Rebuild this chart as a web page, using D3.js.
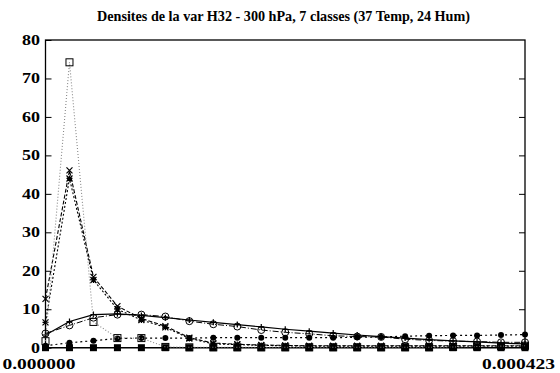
<!DOCTYPE html>
<html>
<head>
<meta charset="utf-8">
<script src="https://cdn.jsdelivr.net/npm/d3@7"></script>
<style>
  body { margin: 0; background: #fff; }
  text { font-family: "Liberation Serif", "DejaVu Serif", serif; font-weight: bold; }
</style>
</head>
<body>
<script>
// Dimensions
const width = 560, height = 373;
const margin = {left: 45.5, right: 35, top: 40, bottom: 25.3};

// Data: 21 classes along x, one array per series
const xMax = 0.000423;
const xValues = d3.range(21).map(i => i * xMax / 20);
const xTickValues = [0, xMax];
const yTickValues = [0, 10, 20, 30, 40, 50, 60, 70, 80];

const seriesOpenSquare = [1.7, 74.2, 6.7, 2.5, 2.5, 0.2, 0.1, 0.1, 0.1, 0.1, 0.1, 0.1, 0.1, 0.1, 0.1, 0.1, 0.1, 0.2, 0.3, 0.4, 0.5];
const seriesCross = [12.7, 46.1, 18.4, 10.8, 7.6, 5.6, 2.6, 1.2, 0.9, 0.7, 0.6, 0.5, 0.5, 0.5, 0.5, 0.5, 0.5, 0.5, 0.5, 0.5, 0.5];
const seriesStar = [6.6, 44.0, 17.6, 10.0, 7.2, 5.3, 2.4, 1.0, 0.8, 0.6, 0.5, 0.4, 0.4, 0.4, 0.4, 0.4, 0.4, 0.4, 0.4, 0.4, 0.4];
const seriesSolid = [3.3, 6.8, 8.6, 8.8, 8.4, 7.8, 7.2, 6.6, 6.0, 5.4, 4.8, 4.3, 3.8, 3.3, 2.9, 2.5, 2.1, 1.8, 1.5, 1.2, 1.0];
const seriesOpenCircle = [3.7, 5.8, 7.8, 8.6, 8.6, 8.1, 6.9, 6.1, 5.5, 4.6, 4.0, 3.6, 3.1, 2.9, 2.8, 2.2, 1.9, 1.7, 1.6, 1.4, 1.4];
const seriesFilledCircle = [0.5, 1.3, 1.8, 2.4, 2.5, 2.5, 2.5, 2.6, 2.6, 2.6, 2.6, 2.6, 2.6, 2.7, 2.8, 3.0, 3.1, 3.2, 3.2, 3.3, 3.4];
const seriesFilledSquare = [0, 0, 0, 0, 0, 0, 0, 0, 0, 0, 0, 0, 0, 0, 0, 0, 0, 0, 0, 0, 0];

const series = [
  {values: seriesFilledSquare, dash: null, color: "#000", width: 1.3, mark: "fsquare"},
  {values: seriesFilledCircle, dash: "2,3", color: "#000", width: 1.2, mark: "fcircle"},
  {values: seriesOpenCircle, dash: "6,2,1,2", color: "#000", width: 1, mark: "ocircle"},
  {values: seriesSolid, dash: null, color: "#000", width: 1.2, mark: "plus"},
  {values: seriesStar, dash: "2,2", color: "#000", width: 1.1, mark: "star"},
  {values: seriesCross, dash: "4,2", color: "#000", width: 1.1, mark: "cross"},
  {values: seriesOpenSquare, dash: "1,2", color: "#888", width: 1.1, mark: "osquare"}
];

const svg = d3.select("body")
      .append("svg")
      .attr("width", width)
      .attr("height", height);

const x = d3.scaleLinear().domain([0, xMax]).range([margin.left, width - margin.right]);
const y = d3.scaleLinear().domain([0, 80]).range([height - margin.bottom, margin.top]);

// Title (gnuplot text is a bit wider than Liberation Serif, so stretch it)
svg.append("text")
    .attr("x", 283.5)
    .attr("y", 21)
    .attr("text-anchor", "middle")
    .attr("textLength", 373)
    .attr("lengthAdjust", "spacingAndGlyphs")
    .style("font-size", "14px")
    .text("Densites de la var H32 - 300 hPa, 7 classes (37 Temp, 24 Hum)");

// Axes: ticks pointing inward, mirrored on the right
svg.append("g")
    .attr("transform", `translate(${margin.left},0)`)
    .call(d3.axisRight(y).tickValues(yTickValues).tickSize(6).tickFormat(""))
    .call(g => g.select(".domain").remove());

svg.append("g")
    .attr("transform", `translate(${width - margin.right},0)`)
    .call(d3.axisLeft(y).tickValues(yTickValues.slice(1, -1)).tickSize(6).tickFormat(""))
    .call(g => g.select(".domain").remove());

svg.append("g")
    .selectAll("text")
    .data(yTickValues)
    .enter().append("text")
    .attr("x", margin.left - 5.5)
    .attr("y", d => y(d) + 5)
    .attr("text-anchor", "end")
    .attr("textLength", d => String(d).length * 9)
    .attr("lengthAdjust", "spacingAndGlyphs")
    .style("font-size", "15px")
    .text(d => d);

svg.append("g")
    .selectAll("text")
    .data(xTickValues)
    .enter().append("text")
    .attr("x", d => x(d) - 6.5)
    .attr("y", height - 4)
    .attr("text-anchor", "middle")
    .attr("textLength", 73)
    .attr("lengthAdjust", "spacingAndGlyphs")
    .style("font-size", "15px")
    .text(d => d3.format(".6f")(d));

// Frame
svg.append("rect")
    .attr("x", x(0))
    .attr("y", y(80))
    .attr("width", x(xMax) - x(0))
    .attr("height", y(0) - y(80))
    .attr("fill", "none")
    .attr("stroke", "#000")
    .attr("stroke-width", 1.3);

const line = d3.line().x((d, i) => x(xValues[i])).y(d => y(d));

const plot = svg.append("g");

series.forEach(s => {
    plot.append("path")
        .datum(s.values)
        .attr("d", line)
        .attr("fill", "none")
        .attr("stroke", s.color)
        .attr("stroke-width", s.width)
        .attr("stroke-dasharray", s.dash);

    const marks = plot.append("g")
        .selectAll("g")
        .data(s.values)
        .enter().append("g")
        .attr("transform", (d, i) => `translate(${x(xValues[i])},${y(d)})`);

    const r = 3;
    if (s.mark === "fsquare") {
        marks.append("rect").attr("x", -3.5).attr("y", -3.5).attr("width", 7).attr("height", 7).attr("fill", "#000");
    } else if (s.mark === "osquare") {
        marks.append("rect").attr("x", -3.5).attr("y", -3.5).attr("width", 7).attr("height", 7)
            .attr("fill", "none").attr("stroke", "#000").attr("stroke-width", 1);
    } else if (s.mark === "fcircle") {
        marks.append("circle").attr("r", r).attr("fill", "#000");
    } else if (s.mark === "ocircle") {
        marks.append("circle").attr("r", 3.5).attr("fill", "none").attr("stroke", "#000").attr("stroke-width", 1);
    } else {
        let p = "";
        if (s.mark === "plus" || s.mark === "star") p += `M${-r},0H${r}M0,${-r}V${r}`;
        if (s.mark === "cross" || s.mark === "star") p += `M${-r},${-r}L${r},${r}M${-r},${r}L${r},${-r}`;
        marks.append("path").attr("d", p).attr("stroke", "#000").attr("stroke-width", 1.2).attr("fill", "none");
    }
});
</script>
</body>
</html>
